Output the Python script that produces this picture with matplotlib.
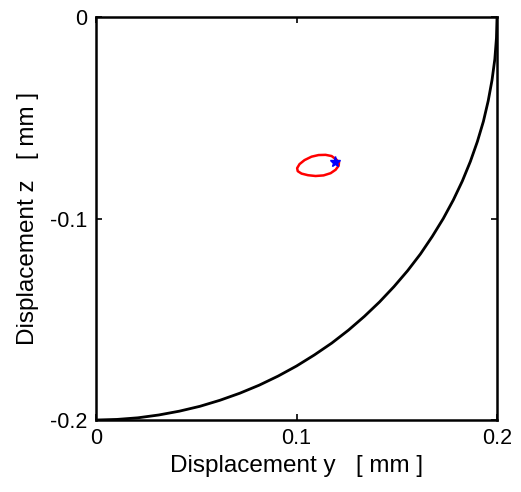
import matplotlib
matplotlib.use("Agg")
import matplotlib.pyplot as plt

plt.rcParams['font.family'] = ['Liberation Sans', 'DejaVu Sans']

# boundary curve
curve_y = [0.0, 0.0105, 0.0209, 0.0313, 0.0416, 0.0518, 0.0618, 0.0717, 0.0814, 0.0908,
           0.1, 0.1089, 0.1176, 0.1259, 0.1338, 0.1414, 0.1486, 0.1554, 0.1618, 0.1677,
           0.1732, 0.1782, 0.1827, 0.1867, 0.1902, 0.1932, 0.1956, 0.1975, 0.1989, 0.1997,
           0.2]
curve_z = [-0.2, -0.1997, -0.1989, -0.1975, -0.1956, -0.1932, -0.1902, -0.1867, -0.1827,
           -0.1782, -0.1732, -0.1677, -0.1618, -0.1554, -0.1486, -0.1414, -0.1338, -0.1259,
           -0.1176, -0.1089, -0.1, -0.0908, -0.0814, -0.0717, -0.0618, -0.0518, -0.0416,
           -0.0313, -0.0209, -0.0105, 0.0]

# orbit (red loop)
orbit_y = [0.1195, 0.1212, 0.1210, 0.1195, 0.1170, 0.1135, 0.1095, 0.1057, 0.1025,
           0.1006, 0.1003, 0.1015, 0.1040, 0.1075, 0.1110, 0.1145, 0.1175, 0.1195]
orbit_z = [-0.0705, -0.0720, -0.0738, -0.0758, -0.0775, -0.0786, -0.0789, -0.0785,
           -0.0777, -0.0765, -0.0750, -0.0730, -0.0710, -0.0693, -0.0685, -0.0684,
           -0.0690, -0.0705]

start_y, start_z = 0.1192, -0.0718

fig = plt.figure(figsize=(5.21, 4.92), dpi=100)
ax = fig.add_axes([0.1843, 0.1463, 0.7697, 0.8191])

ax.plot(curve_y, curve_z, color='black', lw=2.0)
ax.plot(orbit_y, orbit_z, color='red', lw=1.8)
ax.plot(start_y, start_z, marker='*', color='blue', ms=8, lw=0)

ax.set_xlim(0, 0.2)
ax.set_ylim(-0.2, 0)
ax.set_xticks([0, 0.1, 0.2])
ax.set_xticklabels(['0', '0.1', '0.2'])
ax.set_yticks([-0.2, -0.1, 0])
ax.set_yticklabels(['-0.2', '-0.1', '0'])
ax.tick_params(direction='in', length=4, width=1.2, labelsize=15.5,
               top=True, right=True, pad=6)
for s in ax.spines.values():
    s.set_linewidth(1.8)

ax.set_xlabel('Displacement y   [ mm ]', fontsize=17.5, labelpad=4)
ax.set_ylabel('Displacement z   [ mm ]', fontsize=17.5, labelpad=8)

fig.savefig('out.png', dpi=100)
